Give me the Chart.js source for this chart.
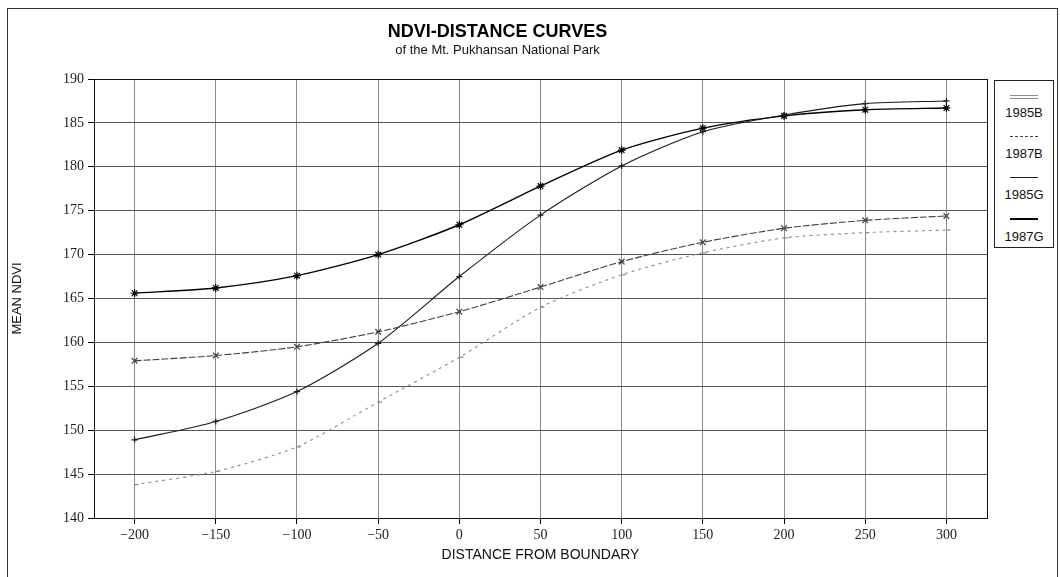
<!DOCTYPE html>
<html>
<head>
<meta charset="utf-8">
<title>NDVI-Distance Curves</title>
<script src="https://cdn.jsdelivr.net/npm/chart.js@4.4.1/dist/chart.umd.min.js"></script>
<style>
  html, body { margin: 0; padding: 0; background: #fff; }
  #wrap { position: relative; width: 1060px; height: 577px; overflow: hidden; }
  #frame { position: absolute; left: 7px; top: 8px; width: 1049px; height: 620px;
           border: 1px solid #333; border-bottom: none; }
  #chart { position: absolute; left: 0; top: 0; }
  #legend { position: absolute; left: 994px; top: 80px; width: 58px; padding: 0 0 2px;
            border: 1px solid #222; background: #fff;
            font: 13px "Liberation Sans", Arial, sans-serif; color: #111; text-align: center; }
  #legend .item { height: 41px; padding-top: 14px; box-sizing: border-box; }
  #legend .swatch { width: 28px; margin: 0 auto 9px; border-top: 1px solid #222; }
  #legend .txt { line-height: 15px; }
</style>
</head>
<body>
<div id="wrap">
  <div id="frame"></div>
  <canvas id="chart" width="1060" height="577"></canvas>
  <div id="legend"></div>
</div>
<script>
// values
var distances = [-200, -150, -100, -50, 0, 50, 100, 150, 200, 250, 300];
var seriesNames = ["1985B", "1987B", "1985G", "1987G"];
var ndvi1985B = [143.8, 145.3, 148.1, 153.2, 158.3, 164.0, 167.7, 170.2, 171.9, 172.5, 172.8];
var ndvi1987B = [157.9, 158.5, 159.5, 161.2, 163.5, 166.3, 169.2, 171.4, 173.0, 173.9, 174.4];
var ndvi1985G = [148.9, 151.0, 154.4, 159.9, 167.5, 174.5, 180.1, 184.0, 185.9, 187.2, 187.5];
var ndvi1987G = [165.6, 166.2, 167.6, 170.0, 173.4, 177.8, 181.9, 184.4, 185.8, 186.5, 186.7];

var lineColors = ["#8c8c8c", "#404040", "#1a1a1a", "#000000"];
var lineDash = [[3, 4], [7, 2], [], []];
var markers = ["dash", "crossRot", "cross", "star"];

function toPoints(vals) {
  return distances.map(function (d, i) { return { x: d, y: vals[i] }; });
}

var allValues = [ndvi1985B, ndvi1987B, ndvi1985G, ndvi1987G];
var datasets = seriesNames.map(function (name, i) {
  return {
    label: name,
    data: toPoints(allValues[i]),
    borderColor: lineColors[i],
    backgroundColor: lineColors[i],
    borderWidth: i === 3 ? 1.4 : 1.1,
    borderDash: lineDash[i],
    tension: 0.25,
    pointStyle: markers[i],
    pointRadius: i === 2 ? 3 : 4,
    pointBorderWidth: 1.2,
    pointBorderColor: lineColors[i],
    fill: false
  };
});

// plot frame drawn over the chart area
var frameBox = {
  id: 'frameBox',
  afterDraw: function (chart) {
    var a = chart.chartArea, ctx = chart.ctx;
    ctx.save();
    ctx.strokeStyle = '#111';
    ctx.lineWidth = 1;
    ctx.strokeRect(Math.round(a.left) + 0.5, Math.round(a.top) + 0.5,
                   Math.round(a.right - a.left), Math.round(a.bottom - a.top));
    ctx.restore();
  }
};

var ctx = document.getElementById('chart').getContext('2d');
new Chart(ctx, {
  type: 'line',
  data: { datasets: datasets },
  plugins: [frameBox],
  options: {
    responsive: false,
    animation: false,
    layout: { padding: { left: 8, right: 73, top: 0, bottom: 0 } },
    plugins: {
      legend: { display: false },
      tooltip: { enabled: false },
      title: {
        display: true,
        text: 'NDVI-DISTANCE CURVES',
        color: '#000',
        font: { family: '"Liberation Sans", Arial, sans-serif', size: 18, weight: 'bold' },
        padding: { top: 21, bottom: 0 }
      },
      subtitle: {
        display: true,
        text: 'of the Mt. Pukhansan National Park',
        color: '#111',
        font: { family: '"Liberation Sans", Arial, sans-serif', size: 13 },
        padding: { top: 0, bottom: 20.8 }
      }
    },
    scales: {
      x: {
        type: 'linear',
        min: -225,
        max: 325,
        afterBuildTicks: function (scale) {
          scale.ticks = distances.map(function (v) { return { value: v }; });
        },
        afterFit: function (scale) { scale.height = 59; },
        ticks: {
          color: '#222',
          padding: 3,
          font: { family: '"Liberation Serif", "DejaVu Serif", serif', size: 14 },
          callback: function (v) { return v < 0 ? '\u2212' + Math.abs(v) : String(v); }
        },
        grid: {
          color: '#8a8a8a',
          borderDash: [4, 7],
          tickColor: '#000',
          tickLength: 6,
          tickBorderDash: []
        },
        border: { display: true, color: '#000', width: 1 },
        title: {
          display: true,
          text: 'DISTANCE FROM BOUNDARY',
          color: '#111',
          font: { family: '"Liberation Sans", Arial, sans-serif', size: 14 },
          padding: { top: 0, bottom: 13 }
        }
      },
      y: {
        type: 'linear',
        min: 140,
        max: 190,
        afterFit: function (scale) { scale.width = 86; },
        ticks: {
          stepSize: 5,
          color: '#222',
          padding: 4,
          font: { family: '"Liberation Serif", "DejaVu Serif", serif', size: 14 }
        },
        grid: {
          color: '#555',
          borderDash: [12, 3, 3, 3],
          tickColor: '#000',
          tickLength: 6,
          tickBorderDash: []
        },
        border: { display: true, color: '#000', width: 1 },
        title: {
          display: true,
          text: 'MEAN NDVI',
          color: '#111',
          font: { family: '"Liberation Sans", Arial, sans-serif', size: 13 },
          padding: { top: 2, bottom: 0 }
        }
      }
    }
  }
});

// legend box: line sample above each series name
var legendEl = document.getElementById('legend');
seriesNames.forEach(function (name, i) {
  var item = document.createElement('div');
  item.className = 'item';
  var sw = document.createElement('div');
  sw.className = 'swatch';
  sw.style.borderTopColor = lineColors[i];
  if (i === 0) { sw.style.borderBottom = '1px solid ' + lineColors[i]; sw.style.height = '2px'; sw.style.marginBottom = '6px'; }
  if (i === 1) sw.style.borderTopStyle = 'dashed';
  if (i === 3) sw.style.borderTopWidth = '2px';
  var txt = document.createElement('div');
  txt.className = 'txt';
  txt.textContent = name;
  item.appendChild(sw);
  item.appendChild(txt);
  legendEl.appendChild(item);
});
</script>
</body>
</html>
